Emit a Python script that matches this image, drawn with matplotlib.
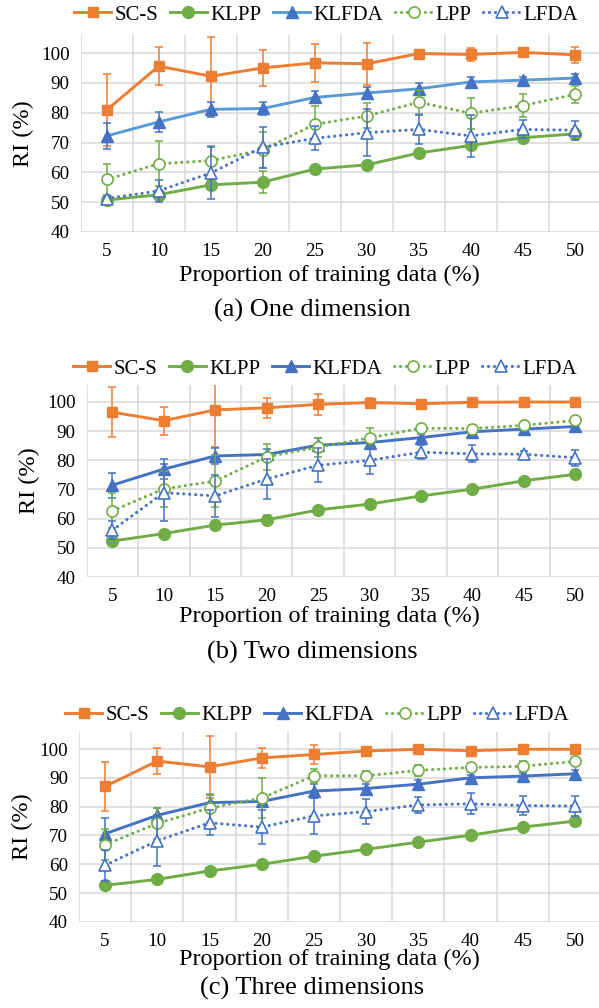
import numpy as np
import matplotlib.pyplot as plt

plt.rcParams['font.family'] = ['Liberation Serif', 'DejaVu Serif']

proportions = [5, 10, 15, 20, 25, 30, 35, 40, 45, 50]
methods = ['SC-S', 'KLPP', 'KLFDA', 'LPP', 'LFDA']
captions = ['(a) One dimension', '(b) Two dimensions', '(c) Three dimensions']

# RI (%) mean and std, one dimension
scs_1d = [80.9, 95.6, 92.2, 95.0, 96.7, 96.4, 99.8, 99.5, 100.2, 99.4]
scs_1d_err = [12.2, 6.3, 13.3, 5.9, 6.4, 7.0, 0.8, 2.3, 0.6, 2.7]
klpp_1d = [50.7, 52.5, 55.8, 56.7, 61.1, 62.5, 66.5, 69.0, 71.6, 72.9]
klpp_1d_err = [0.8, 1.5, 1.5, 3.6, 0.7, 0.7, 0.8, 1.0, 0.8, 1.5]
klfda_1d = [72.2, 76.9, 81.1, 81.4, 85.1, 86.6, 88.0, 90.3, 90.9, 91.6]
klfda_1d_err = [4.5, 3.3, 2.6, 2.1, 2.0, 2.0, 2.0, 1.5, 1.0, 1.2]
lpp_1d = [57.6, 62.9, 63.9, 67.6, 76.1, 78.9, 83.5, 79.8, 82.4, 86.1]
lpp_1d_err = [5.1, 7.5, 4.8, 6.0, 6.0, 4.2, 4.0, 5.2, 4.0, 3.0]
lfda_1d = [51.2, 53.8, 59.8, 68.4, 71.4, 73.3, 74.4, 72.2, 74.4, 74.1]
lfda_1d_err = [1.0, 3.6, 8.7, 6.8, 4.0, 7.8, 4.8, 7.1, 3.0, 3.2]

# two dimensions
scs_2d = [96.5, 93.6, 97.3, 98.0, 99.2, 99.8, 99.4, 99.9, 100.0, 100.0]
scs_2d_err = [8.6, 4.8, 12.7, 3.5, 3.6, 1.5, 0.8, 1.5, 0.8, 0.8]
klpp_2d = [52.3, 54.9, 57.8, 59.6, 63.0, 65.0, 67.8, 70.1, 73.0, 75.2]
klpp_2d_err = [0.8, 0.8, 0.8, 1.5, 0.8, 0.8, 0.8, 0.8, 0.8, 0.8]
klfda_2d = [71.5, 77.0, 81.5, 82.0, 85.2, 86.1, 87.8, 89.8, 90.7, 91.6]
klfda_2d_err = [4.3, 3.3, 2.8, 2.0, 2.5, 1.5, 1.2, 1.0, 1.0, 0.8]
lpp_2d = [62.7, 70.2, 72.9, 81.2, 84.5, 87.7, 91.0, 90.9, 92.0, 93.7]
lpp_2d_err = [6.0, 6.3, 8.8, 4.5, 3.2, 3.3, 1.0, 1.0, 1.0, 1.0]
lfda_2d = [56.1, 68.9, 67.8, 73.6, 78.3, 80.0, 82.8, 82.2, 82.1, 80.9]
lfda_2d_err = [3.0, 9.7, 7.3, 6.8, 5.8, 4.7, 2.4, 2.9, 1.2, 2.8]

# three dimensions
scs_3d = [87.0, 95.8, 93.8, 96.9, 98.1, 99.3, 99.9, 99.4, 99.9, 99.9]
scs_3d_err = [8.4, 4.6, 10.8, 3.5, 3.2, 1.5, 0.6, 1.0, 0.6, 0.6]
klpp_3d = [52.7, 54.8, 57.7, 60.0, 62.8, 65.2, 67.7, 70.1, 72.9, 75.0]
klpp_3d_err = [0.8, 0.8, 0.8, 0.8, 0.8, 0.8, 0.8, 0.8, 0.8, 1.2]
klfda_3d = [70.6, 77.0, 81.4, 81.8, 85.4, 86.3, 87.8, 90.0, 90.6, 91.4]
klfda_3d_err = [5.3, 2.7, 2.7, 1.5, 2.5, 1.5, 1.5, 1.0, 1.0, 1.2]
lpp_3d = [66.8, 74.2, 79.5, 83.0, 90.7, 90.7, 92.6, 93.6, 94.0, 95.7]
lpp_3d_err = [5.4, 5.4, 4.9, 6.8, 2.4, 1.5, 2.0, 1.5, 1.7, 1.0]
lfda_3d = [59.7, 68.2, 74.4, 72.9, 76.8, 78.3, 80.6, 81.0, 80.4, 80.2]
lfda_3d_err = [5.4, 8.9, 4.4, 6.0, 6.2, 4.2, 2.7, 3.6, 3.3, 3.6]

panels = [
    [(scs_1d, scs_1d_err), (klpp_1d, klpp_1d_err), (klfda_1d, klfda_1d_err),
     (lpp_1d, lpp_1d_err), (lfda_1d, lfda_1d_err)],
    [(scs_2d, scs_2d_err), (klpp_2d, klpp_2d_err), (klfda_2d, klfda_2d_err),
     (lpp_2d, lpp_2d_err), (lfda_2d, lfda_2d_err)],
    [(scs_3d, scs_3d_err), (klpp_3d, klpp_3d_err), (klfda_3d, klfda_3d_err),
     (lpp_3d, lpp_3d_err), (lfda_3d, lfda_3d_err)],
]

ORANGE = '#ED7D31'
GREEN = '#70AD47'
BLUE = '#4472C4'
LIGHT_BLUE = '#5B9BD5'
GRID = '#D9D9D9'

W, H = 599, 1008
RIGHT = 601
# pixel layout per panel: plot box, legend centre, ylabel x, xlabel y, caption y
layout = [
    dict(left=80.7, top=35.1, bottom=232, leg=(326, 15), ylab=23, xlab=275, cap=310),
    dict(left=86.7, top=384.5, bottom=577, leg=(325, 369), ylab=29, xlab=616, cap=652),
    dict(left=79.0, top=731.7, bottom=922, leg=(317, 715), ylab=22, xlab=959, cap=988),
]


def series_style(i, panel):
    klfda_line = LIGHT_BLUE if panel == 0 else BLUE
    dots = (0, (0.05, 1.9))
    styles = [
        dict(color=ORANGE, marker='s', ms=7.5, mfc=ORANGE, mec=ORANGE, ls='-', lw=2.1),
        dict(color=GREEN, marker='o', ms=8.5, mfc=GREEN, mec=GREEN, ls='-', lw=2.1),
        dict(color=klfda_line, marker='^', ms=8, mfc=BLUE, mec=BLUE, ls='-', lw=2.1),
        dict(color=GREEN, marker='o', ms=8, mfc='white', mec=GREEN, mew=1.2,
             ls=dots, lw=2.2, dash_capstyle='round'),
        dict(color=BLUE, marker='^', ms=8, mfc='white', mec=BLUE, mew=1.2,
             ls=dots, lw=2.2, dash_capstyle='round'),
    ]
    err_colors = [ORANGE, GREEN, BLUE, GREEN, BLUE]
    return styles[i], err_colors[i]


fig = plt.figure(figsize=(W / 100, H / 100), dpi=100)
x = np.arange(len(proportions))

for p, (series, lay) in enumerate(zip(panels, layout)):
    ax = fig.add_axes([lay['left'] / W, 1 - lay['bottom'] / H,
                       (RIGHT - lay['left']) / W, (lay['bottom'] - lay['top']) / H])
    handles = []
    for i, (vals, errs) in enumerate(series):
        style, ecol = series_style(i, p)
        z = 3 + 2 * i
        ax.errorbar(x, vals, yerr=errs, fmt='none', ecolor=ecol, elinewidth=1.1,
                    capsize=2.6, capthick=1.1, zorder=z)
        line, = ax.plot(x, vals, zorder=z + 1, **style)
        handles.append(line)

    ax.set_xlim(-0.5, len(proportions) - 0.5)
    ax.set_ylim(40, 106)
    ax.set_yticks(range(40, 101, 10))
    ax.set_xticks(x)
    ax.set_xticklabels([str(v) for v in proportions])
    ax.set_xticks(np.arange(-0.5, len(proportions), 1), minor=True)
    ax.grid(axis='y', which='major', color=GRID, lw=1.1)
    ax.grid(axis='x', which='minor', color=GRID, lw=1.1)
    ax.set_axisbelow(True)
    for s in ax.spines.values():
        s.set_visible(False)
    ax.tick_params(which='both', length=0, labelsize=13.7)
    ax.tick_params(axis='y', pad=8)
    ax.tick_params(axis='x', pad=8)

    ax.legend(handles, methods, loc='center', ncol=5, frameon=False,
              bbox_to_anchor=(lay['leg'][0] / W, 1 - lay['leg'][1] / H),
              bbox_transform=fig.transFigure, fontsize=15, handlelength=1.8,
              handletextpad=0.15, columnspacing=0.55, borderaxespad=0, borderpad=0)

    fig.text(lay['ylab'] / W, 1 - (lay['top'] + lay['bottom']) / 2 / H, 'RI (%)',
             rotation=90, ha='center', va='center', fontsize=17.5)
    fig.text(329 / W, 1 - lay['xlab'] / H, 'Proportion of training data (%)',
             ha='center', va='center', fontsize=17.5)
    fig.text(312 / W, 1 - lay['cap'] / H, captions[p],
             ha='center', va='center', fontsize=19)

fig.savefig('out.png', dpi=100)
